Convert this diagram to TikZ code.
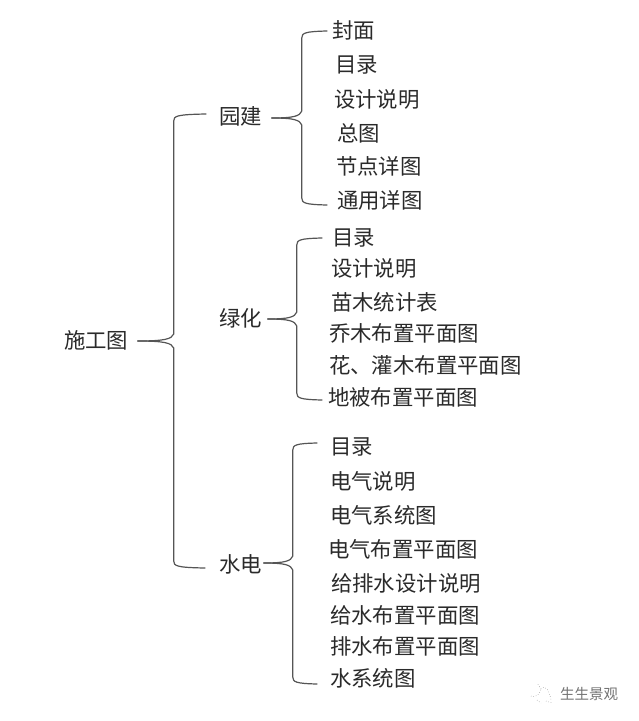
\documentclass[tikz,border=0pt]{standalone}
\usepackage{fontspec}
\setmainfont{Noto Sans CJK SC}
\usetikzlibrary{calc}
\definecolor{ink}{HTML}{2A2A2A}
\definecolor{brk}{HTML}{555555}
\tikzset{
  lbl/.style={anchor=west,inner sep=0pt,outer sep=0pt,text=ink,font=\fontsize{21.4}{23}\selectfont},
  brk/.style={draw=brk,line width=1.2pt,line cap=round},
  wm/.style={draw=black!50,line width=0.5pt,dotted}
}
% tip, distance to spine, end, sign (+1 up, -1 down)
\newcommand{\BraceArm}[4]{%
  \draw[brk] (#1) let \p1=(#1),\p2=(#3) in
    .. controls (\x1+0.75*#2pt,\y1) and (\x1+#2pt-2pt,\y1+#4*2pt) .. (\x1+#2pt,\y1+#4*7pt)
    -- (\x1+#2pt,\y2-#4*7pt)
    .. controls (\x1+#2pt,\y2-#4*2pt) and (\x1+#2pt+3pt,\y2-#4*0.5pt) .. (#3);
}
\begin{document}
\begin{tikzpicture}[x=1pt,y=-1pt]
\useasboundingbox (0,0) rectangle (639,721);
\fill[white] (0,0) rectangle (639,721);
% root and branches
\node[lbl] (root) at (64,340) {施工图};
\node[lbl] (yj) at (219,116) {园建};
\node[lbl] (lh) at (219,318) {绿化};
\node[lbl] (sd) at (219,564) {水电};
% 园建
\node[lbl] (a1) at (332,30) {封面};
\node[lbl] (a2) at (335,65) {目录};
\node[lbl] (a3) at (334,99) {设计说明};
\node[lbl] (a4) at (337,133) {总图};
\node[lbl] (a5) at (336,166) {节点详图};
\node[lbl] (a6) at (337,200) {通用详图};
% 绿化
\node[lbl] (b1) at (332,238) {目录};
\node[lbl] (b2) at (331,268) {设计说明};
\node[lbl] (b3) at (331,302) {苗木统计表};
\node[lbl] (b4) at (329,333) {乔木布置平面图};
\node[lbl] (b5) at (329,365) {花、灌木布置平面图};
\node[lbl] (b6) at (328,397) {地被布置平面图};
% 水电
\node[lbl] (c1) at (330,447) {目录};
\node[lbl] (c2) at (330,481) {电气说明};
\node[lbl] (c3) at (330,515) {电气系统图};
\node[lbl] (c4) at (328,549) {电气布置平面图};
\node[lbl] (c5) at (331,583) {给排水设计说明};
\node[lbl] (c6) at (330,615) {给水布置平面图};
\node[lbl] (c7) at (330,646) {排水布置平面图};
\node[lbl] (c8) at (330,678) {水系统图};
% brace anchor points (yshift is in page direction: positive is up)
\coordinate (rt) at ([xshift=9.5pt,yshift=-1pt]root.east);
\coordinate (rtop) at ([xshift=-13pt,yshift=2pt]yj.west);
\coordinate (rbot) at ([xshift=-14pt,yshift=-4pt]sd.west);
\coordinate (yt) at ([xshift=10pt,yshift=-2pt]yj.east);
\coordinate (ytop) at ([xshift=-5pt,yshift=-1pt]a1.west);
\coordinate (ybot) at ([xshift=-10pt,yshift=-5pt]a6.west);
\coordinate (lt) at ([xshift=6pt,yshift=-1pt]lh.east);
\coordinate (ltop) at ([xshift=-10pt,yshift=0pt]b1.west);
\coordinate (lbot) at ([xshift=-6pt,yshift=-3pt]b6.west);
\coordinate (st) at ([xshift=2pt,yshift=1pt]sd.east);
\coordinate (stop) at ([xshift=-13pt,yshift=4pt]c1.west);
\coordinate (sbot) at ([xshift=-13pt,yshift=-6pt]c8.west);
% braces
\BraceArm{rt}{36}{rtop}{1}
\BraceArm{rt}{36}{rbot}{-1}
\BraceArm{yt}{30}{ytop}{1}
\BraceArm{yt}{30}{ybot}{-1}
\BraceArm{lt}{29}{ltop}{1}
\BraceArm{lt}{29}{lbot}{-1}
\BraceArm{st}{29}{stop}{1}
\BraceArm{st}{29}{sbot}{-1}
% watermark
\node[anchor=west,inner sep=0pt,text=black!55,font=\fontsize{14.5}{16}\selectfont] (wmk) at (560,694) {生生景观};
\draw[wm] (531,696) .. controls (536,698) and (540,694) .. (541,689) (541,689) .. controls (544,685) and (549,688) .. (551,700) (541,689) -- (537,683) (537,700) -- (541,703) (546,701) -- (552,703);
\end{tikzpicture}
\end{document}
